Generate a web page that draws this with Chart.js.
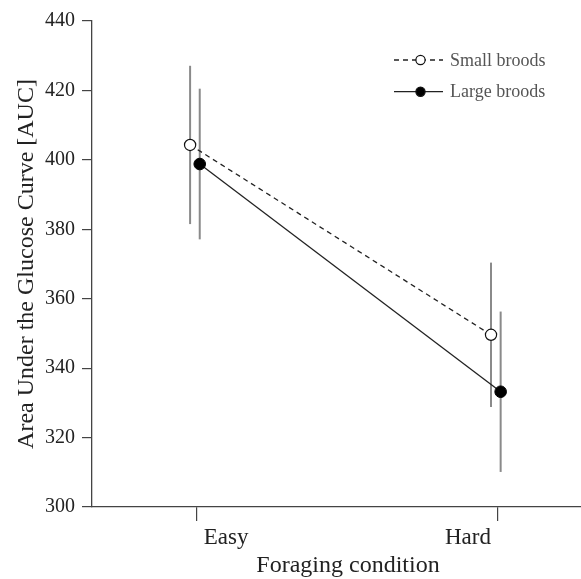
<!DOCTYPE html>
<html>
<head>
<meta charset="utf-8">
<script src="https://cdn.jsdelivr.net/npm/chart.js@4.4.1/dist/chart.umd.min.js"></script>
<style>
  html, body { margin: 0; padding: 0; background: #fff; }
  #wrap { width: 581px; height: 579px; }
</style>
</head>
<body>
<div id="wrap"><canvas id="chart" width="581" height="579"></canvas></div>
<script>
// Data
const conditions = ['Easy', 'Hard'];
const smallMeans = [404.3, 349.6];
const smallErr = [22.8, 20.8];
const largeMeans = [398.8, 333.2];
const largeErr = [21.7, 23.1];
const yTicks = [300, 320, 340, 360, 380, 400, 420, 440];

const serif = "'Liberation Serif', 'Times New Roman', serif";
// small horizontal jitter so the bars do not overlap
const jitter = { small: -0.023, large: 0.009 };

function toPoints(means, dx) {
    return means.map((v, i) => ({ x: i + 1 + dx, y: v }));
}

// error bars behind the markers
const errorBars = {
    id: 'errorBars',
    beforeDatasetsDraw(chart) {
        const ctx = chart.ctx;
        const y = chart.scales.y;
        ctx.save();
        ctx.strokeStyle = '#8a8a8a';
        ctx.lineWidth = 2;
        chart.data.datasets.forEach((ds, di) => {
            const meta = chart.getDatasetMeta(di);
            meta.data.forEach((pt, i) => {
                const m = ds.data[i].y, e = ds.errors[i];
                ctx.beginPath();
                ctx.moveTo(pt.x, y.getPixelForValue(m + e));
                ctx.lineTo(pt.x, y.getPixelForValue(m - e));
                ctx.stroke();
            });
        });
        ctx.restore();
    }
};

// x labels sit slightly inward of their ticks in the original
const xLabels = {
    id: 'xLabels',
    afterDraw(chart) {
        const ctx = chart.ctx;
        const x = chart.scales.x;
        ctx.save();
        ctx.fillStyle = '#222';
        ctx.font = '23px ' + serif;
        ctx.textAlign = 'center';
        ctx.textBaseline = 'middle';
        conditions.forEach((c, i) => {
            const shift = i === 0 ? 29 : -30;
            ctx.fillText(c, x.getPixelForValue(i + 1) + shift, 538);
        });
        ctx.font = '24px ' + serif;
        ctx.fillText('Foraging condition', 348, 566);
        ctx.restore();
    }
};

// legend with line + marker samples
const lineLegend = {
    id: 'lineLegend',
    afterDraw(chart) {
        const ctx = chart.ctx;
        ctx.save();
        chart.data.datasets.forEach((ds, i) => {
            const yy = 60 + i * 31.7;
            ctx.strokeStyle = '#222';
            ctx.lineWidth = 1.3;
            ctx.setLineDash(ds.borderDash || []);
            ctx.beginPath();
            ctx.moveTo(394, yy);
            ctx.lineTo(443, yy);
            ctx.stroke();
            ctx.setLineDash([]);
            ctx.beginPath();
            ctx.arc(420.5, yy, 4.6, 0, Math.PI * 2);
            ctx.fillStyle = ds.pointBackgroundColor;
            ctx.fill();
            ctx.lineWidth = 1.2;
            ctx.strokeStyle = '#111';
            ctx.stroke();
            ctx.fillStyle = '#555';
            ctx.font = '18px ' + serif;
            ctx.textAlign = 'left';
            ctx.textBaseline = 'middle';
            ctx.fillText(ds.label, 450, yy + 1);
        });
        ctx.restore();
    }
};

new Chart(document.getElementById('chart'), {
    type: 'line',
    data: {
        datasets: [
            {
                label: 'Small broods',
                data: toPoints(smallMeans, jitter.small),
                errors: smallErr,
                borderColor: '#222',
                borderWidth: 1.3,
                borderDash: [5, 4],
                pointRadius: 5.6,
                pointBorderWidth: 1.2,
                pointBorderColor: '#111',
                pointBackgroundColor: '#fff'
            },
            {
                label: 'Large broods',
                data: toPoints(largeMeans, jitter.large),
                errors: largeErr,
                borderColor: '#222',
                borderWidth: 1.3,
                pointRadius: 5.8,
                pointBorderWidth: 1,
                pointBorderColor: '#000',
                pointBackgroundColor: '#000'
            }
        ]
    },
    options: {
        responsive: false,
        animation: false,
        layout: { autoPadding: false, padding: { top: 21, right: 0, bottom: 0, left: 0 } },
        plugins: { legend: { display: false }, tooltip: { enabled: false } },
        scales: {
            x: {
                type: 'linear',
                min: 0.651,
                max: 2.276,
                afterBuildTicks: s => { s.ticks = conditions.map((c, i) => ({ value: i + 1 })); },
                afterFit: s => { s.height = 72; s.paddingLeft = 0; s.paddingRight = 0; },
                ticks: { color: 'rgba(0,0,0,0)', font: { family: serif, size: 23 }, callback: v => conditions[v - 1] },
                grid: { drawOnChartArea: false, tickLength: 14, color: '#444', lineWidth: 1.2 },
                border: { color: '#444', width: 1.3 }
            },
            y: {
                min: 300,
                max: 440,
                afterBuildTicks: s => { s.ticks = yTicks.map(v => ({ value: v })); },
                afterFit: s => { s.width = 92; },
                ticks: { color: '#222', padding: 7, font: { family: serif, size: 20 } },
                grid: { drawOnChartArea: false, tickLength: 10, color: '#444', lineWidth: 1.2 },
                border: { color: '#444', width: 1.3 },
                title: {
                    display: true,
                    text: 'Area Under the Glucose Curve [AUC]',
                    color: '#222',
                    font: { family: serif, size: 24, lineHeight: 1.2 },
                    padding: { top: 12, bottom: 0 }
                }
            }
        }
    },
    plugins: [errorBars, xLabels, lineLegend]
});
</script>
</body>
</html>
